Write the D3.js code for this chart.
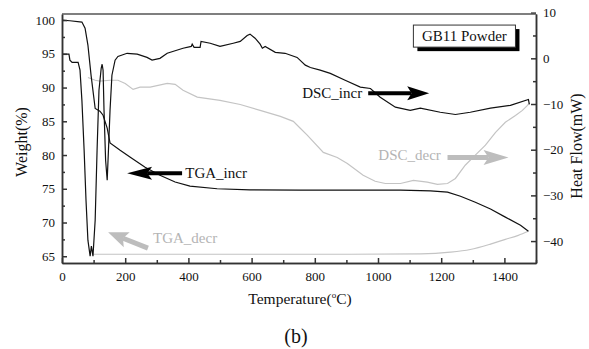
<!DOCTYPE html>
<html>
<head>
<meta charset="utf-8">
<script src="https://cdn.jsdelivr.net/npm/d3@7"></script>
<style>
  body { margin: 0; background: #fff; }
  text { font-family: "Liberation Serif", "Times New Roman", serif; }
</style>
</head>
<body>
<div id="chart-container"></div>
<script>
// TGA (weight %, left axis) and DSC (heat flow mW, right axis) vs temperature
// values, [temperature, value]

const tgaIncr = [
  [0, 100], [25, 99.9], [63, 99.7], [73, 98.8], [82, 96.3], [92, 91.8],
  [105, 86.9], [120, 86.5], [130, 85.9], [143, 84.0], [152, 81.8],
  [184, 80.7], [215, 79.7], [263, 78.2], [310, 77.0], [358, 76.0],
  [405, 75.4], [491, 75.0], [595, 74.85], [754, 74.8], [912, 74.8],
  [1071, 74.8], [1166, 74.7], [1220, 74.5], [1261, 73.9], [1308, 73.0],
  [1356, 72.0], [1403, 70.8], [1451, 69.6], [1476, 68.7]
];

const tgaDecr = [
  [98, 65.3], [437, 65.3], [912, 65.3], [1134, 65.35], [1229, 65.6],
  [1292, 66.0], [1356, 66.8], [1403, 67.5], [1444, 68.1], [1476, 68.7]
];

const dscIncr = [
  [0, 0.9], [22, 0.9], [25, -0.4], [32, -0.9], [51, -0.9], [57, -2.6],
  [63, -9.2], [70, -20.1], [76, -31.1], [82, -39.8], [89, -43.3],
  [93, -41.1], [98, -43.3], [105, -35.4], [111, -20.1], [117, -7.0],
  [124, -2.2], [127, -1.3], [130, -2.6], [133, -11.4], [138, -22.3],
  [143, -26.7], [147, -20.1], [152, -11.4], [158, -3.7], [168, -0.4],
  [177, 0.4], [206, 1.1], [238, 0.9], [269, 0.2], [285, -0.4], [310, 0],
  [333, 1.1], [383, 2.2], [409, 2.6], [412, 3.1], [418, 2.4], [437, 2.4],
  [440, 3.7], [469, 3.3], [500, 2.6], [542, 3.3], [564, 3.7], [586, 5.0],
  [595, 5.3], [611, 4.4], [627, 3.1], [634, 2.2], [643, 2.6], [675, 1.3],
  [706, 1.1], [744, 0.2], [770, -1.5], [786, -2.0], [817, -2.6],
  [849, -3.3], [896, -4.8], [944, -6.3], [976, -6.6], [1007, -8.5],
  [1055, -10.7], [1102, -11.4], [1134, -10.9], [1197, -11.8],
  [1245, -12.3], [1292, -11.8], [1356, -10.9], [1419, -10.3],
  [1476, -9.0], [1479, -10.1]
];

const dscDecr = [
  [82, -4.2], [105, -4.8], [120, -5.0], [152, -4.8], [177, -4.8],
  [200, -5.5], [225, -6.8], [247, -6.3], [279, -6.3], [333, -5.5],
  [358, -5.7], [383, -7.0], [428, -8.5], [500, -9.2], [564, -10.1],
  [627, -11.4], [691, -12.7], [732, -13.8], [754, -15.3], [776, -16.8],
  [827, -20.6], [871, -21.7], [903, -23.0], [953, -25.6], [991, -26.9],
  [1023, -27.4], [1071, -27.4], [1112, -26.7], [1156, -27.1],
  [1188, -27.6], [1220, -27.4], [1245, -26.3], [1276, -23.4],
  [1308, -21.2], [1340, -19.0], [1372, -16.2], [1403, -14.0],
  [1435, -12.5], [1457, -11.4], [1473, -10.3], [1479, -9.8]
];

const xTicks = [0, 200, 400, 600, 800, 1000, 1200, 1400];
const xMinor = [100, 300, 500, 700, 900, 1100, 1300, 1500];
const weightTicks = [65, 70, 75, 80, 85, 90, 95, 100];
const weightMinor = [67.5, 72.5, 77.5, 82.5, 87.5, 92.5, 97.5];
const heatTicks = [-40, -30, -20, -10, 0, 10];
const heatMinor = [-35, -25, -15, -5, 5];

const width = 589;
const height = 349;
const plot = { left: 62, right: 536, top: 14, bottom: 263 };

const x = d3.scaleLinear().domain([0, 1500]).range([plot.left, plot.right]);
const yL = d3.scaleLinear().domain([64, 100.9]).range([plot.bottom, plot.top]);
const yR = d3.scaleLinear().domain([-44.8, 9.7]).range([plot.bottom, plot.top]);

const svg = d3
  .select("#chart-container")
  .append("svg")
  .attr("width", width)
  .attr("height", height);

svg.append("rect").attr("width", width).attr("height", height).attr("fill", "#fff");

const lineL = d3.line().x(d => x(d[0])).y(d => yL(d[1]));
const lineR = d3.line().x(d => x(d[0])).y(d => yR(d[1]));

// curves
svg.append("path").attr("d", lineL.curve(d3.curveMonotoneX)(tgaDecr))
  .attr("fill", "none").attr("stroke", "#c4c4c4").attr("stroke-width", 1.2);
svg.append("path").attr("d", lineR.curve(d3.curveLinear)(dscDecr))
  .attr("fill", "none").attr("stroke", "#c4c4c4").attr("stroke-width", 1.2);
svg.append("path").attr("d", lineL.curve(d3.curveLinear)(tgaIncr))
  .attr("fill", "none").attr("stroke", "#111").attr("stroke-width", 1.2);
svg.append("path").attr("d", lineR.curve(d3.curveLinear)(dscIncr))
  .attr("fill", "none").attr("stroke", "#111").attr("stroke-width", 1.2);

// axes
function styleAxis(g) {
  g.selectAll("path, line").attr("stroke", "#333").attr("stroke-width", 1.5);
  g.selectAll("text")
    .attr("font-family", "Liberation Serif, serif")
    .attr("font-size", "13px")
    .attr("fill", "#111");
}

svg.append("g")
  .attr("transform", `translate(0,${plot.bottom})`)
  .call(d3.axisBottom(x).tickValues(xTicks).tickSizeInner(-5).tickSizeOuter(0).tickPadding(9).tickFormat(d3.format("d")))
  .call(styleAxis);
svg.append("g")
  .attr("transform", `translate(0,${plot.bottom})`)
  .call(d3.axisBottom(x).tickValues(xMinor).tickSizeInner(-3).tickSizeOuter(0).tickFormat(""))
  .call(styleAxis);

svg.append("g")
  .attr("transform", `translate(${plot.left},0)`)
  .call(d3.axisLeft(yL).tickValues(weightTicks).tickSizeInner(-5).tickSizeOuter(0).tickPadding(7))
  .call(styleAxis);
svg.append("g")
  .attr("transform", `translate(${plot.left},0)`)
  .call(d3.axisLeft(yL).tickValues(weightMinor).tickSizeInner(-3).tickSizeOuter(0).tickFormat(""))
  .call(styleAxis);

svg.append("g")
  .attr("transform", `translate(${plot.right},0)`)
  .call(d3.axisRight(yR).tickValues(heatTicks).tickSizeInner(-5).tickSizeOuter(0).tickPadding(7))
  .call(styleAxis);
svg.append("g")
  .attr("transform", `translate(${plot.right},0)`)
  .call(d3.axisRight(yR).tickValues(heatMinor).tickSizeInner(-3).tickSizeOuter(0).tickFormat(""))
  .call(styleAxis);

svg.append("line")
  .attr("x1", plot.left).attr("x2", plot.right)
  .attr("y1", plot.top).attr("y2", plot.top)
  .attr("stroke", "#555").attr("stroke-width", 1.5);

// axis titles
const xTitle = svg.append("text")
  .attr("x", 300).attr("y", 304)
  .attr("text-anchor", "middle")
  .attr("font-size", "15.5px").attr("fill", "#111");
xTitle.append("tspan").text("Temperature(");
xTitle.append("tspan").attr("font-size", "9px").attr("dy", -6).text("o");
xTitle.append("tspan").attr("dy", 6).text("C)");

svg.append("text")
  .attr("transform", "translate(27,142)rotate(-90)")
  .attr("text-anchor", "middle")
  .attr("font-size", "16px").attr("fill", "#111")
  .text("Weight(%)");

svg.append("text")
  .attr("transform", "translate(582,146)rotate(-90)")
  .attr("text-anchor", "middle")
  .attr("font-size", "16px").attr("fill", "#111")
  .text("Heat Flow(mW)");

svg.append("text")
  .attr("x", 296).attr("y", 343)
  .attr("text-anchor", "middle")
  .attr("font-family", "Liberation Sans, Arial, sans-serif")
  .attr("font-size", "20px").attr("fill", "#111")
  .text("(b)");

// legend box
const boxX = x(1112), boxY = yL(99.26);
const boxW = x(1435) - boxX, boxH = yL(95.99) - boxY;
svg.append("rect")
  .attr("x", boxX + 4).attr("y", boxY + 4)
  .attr("width", boxW).attr("height", boxH)
  .attr("fill", "#000");
svg.append("rect")
  .attr("x", boxX).attr("y", boxY)
  .attr("width", boxW).attr("height", boxH)
  .attr("fill", "#fff").attr("stroke", "#333").attr("stroke-width", 1);
svg.append("text")
  .attr("x", boxX + boxW / 2).attr("y", boxY + boxH / 2 + 5)
  .attr("text-anchor", "middle")
  .attr("font-size", "15px").attr("fill", "#111")
  .text("GB11 Powder");

// labelled arrows, positions in data units
function arrow(x0, y0, x1, y1, shaft, headLen, headHalf, color) {
  const dx = x1 - x0, dy = y1 - y0;
  const len = Math.sqrt(dx * dx + dy * dy);
  const ux = dx / len, uy = dy / len;
  const nx = -uy, ny = ux;
  const bx = x1 - ux * headLen, by = y1 - uy * headLen;
  const notch = headLen * 0.2;
  svg.append("line")
    .attr("x1", x0).attr("y1", y0)
    .attr("x2", bx + ux * notch).attr("y2", by + uy * notch)
    .attr("stroke", color).attr("stroke-width", shaft);
  const pts = [
    [x1, y1],
    [bx + nx * headHalf, by + ny * headHalf],
    [bx + ux * notch, by + uy * notch],
    [bx - nx * headHalf, by - ny * headHalf]
  ];
  svg.append("path")
    .attr("d", "M" + pts.map(p => p.join(",")).join("L") + "Z")
    .attr("fill", color);
}

// DSC_incr
svg.append("text").attr("x", x(760)).attr("y", yR(-8.75))
  .attr("font-size", "15px").attr("fill", "#111").text("DSC_incr");
arrow(x(969), yR(-7.66), x(1162), yR(-7.66), 4, 22, 7, "#000");

// TGA_incr
svg.append("text").attr("x", x(390)).attr("y", yL(76.55))
  .attr("font-size", "15px").attr("fill", "#111").text("TGA_incr");
arrow(x(380), yL(77.3), x(206), yL(77.3), 4, 25, 6.5, "#000");

// DSC_decr
svg.append("text").attr("x", x(1001)).attr("y", yR(-22.3))
  .attr("font-size", "15px").attr("fill", "#b4b4b4").text("DSC_decr");
arrow(x(1220), yR(-21.7), x(1413), yR(-21.7), 5, 25, 7.5, "#bdbdbd");

// TGA_decr
svg.append("text").attr("x", x(288)).attr("y", yL(66.9))
  .attr("font-size", "15px").attr("fill", "#b4b4b4").text("TGA_decr");
arrow(x(272), yL(66.2), x(146), yL(68.55), 5, 20, 8, "#bdbdbd");
</script>
</body>
</html>
